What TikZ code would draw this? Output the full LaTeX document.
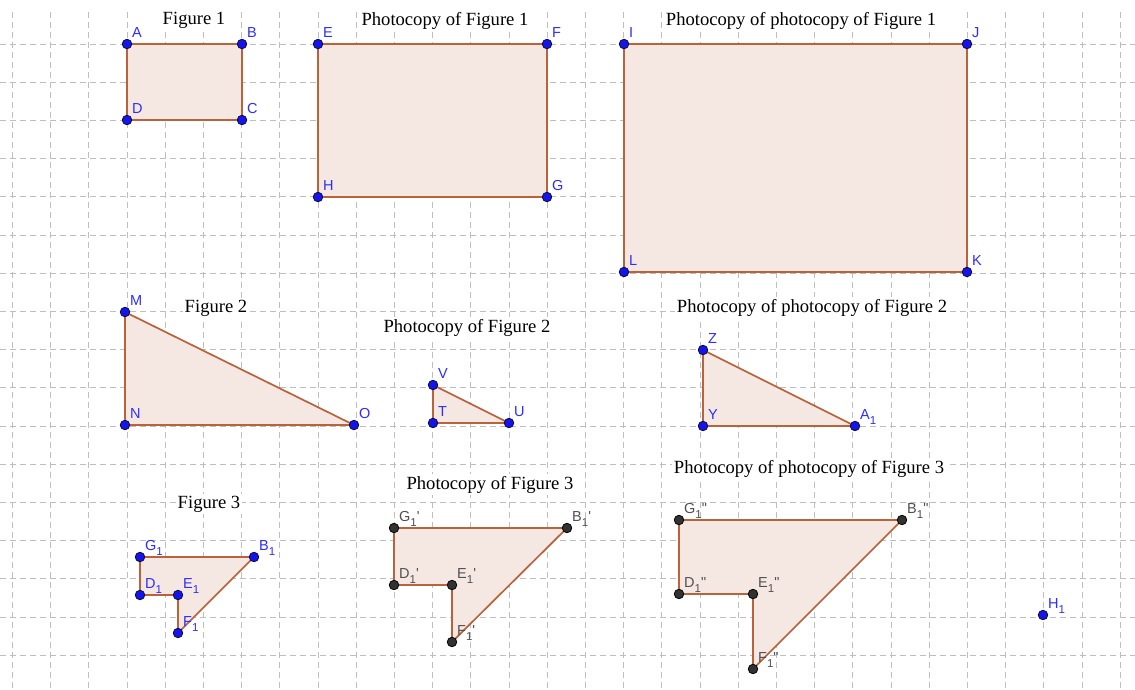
\documentclass[tikz,border=0pt]{standalone}
\usepackage{fontspec}
\setmainfont{Liberation Serif}
\newfontfamily\lblfont{Liberation Sans}
\definecolor{gridgray}{RGB}{190,190,190}
\definecolor{polyline}{RGB}{186,98,58}
\definecolor{polyfill}{RGB}{245,232,226}
\definecolor{ptblue}{RGB}{20,20,235}
\definecolor{ptedge}{RGB}{10,10,60}
\definecolor{ptdark}{RGB}{50,50,50}
\definecolor{lblblue}{RGB}{45,45,255}
\definecolor{lblgray}{RGB}{80,80,80}
\newcommand\ssub[1]{\raisebox{-5pt}{\fontsize{11.5}{11.5}\selectfont #1}}
\newcommand\pq{\textquotesingle}
\newcommand\ppq{\textquotedbl}
\tikzset{
  gridline/.style={draw=gridgray, line width=0.9pt, dash pattern=on 6pt off 4pt},
  poly/.style={draw=polyline, line width=1.7pt, fill=polyfill, line join=round},
  ptb/.style={circle, fill=ptblue, draw=ptedge, line width=0.8pt, inner sep=0pt, minimum size=9.5pt},
  ptg/.style={circle, fill=ptdark, draw=black, line width=0.8pt, inner sep=0pt, minimum size=9.5pt},
  lbl/.style={font={\lblfont\fontsize{14.5}{14.5}\selectfont}, text=lblblue, inner sep=0pt, anchor=base west, xshift=5pt, yshift=7pt},
  glbl/.style={lbl, text=lblgray},
  ttl/.style={font={\fontsize{18.6}{20}\selectfont}, fill=white, inner sep=2pt, anchor=base}
}
\begin{document}
\begin{tikzpicture}[x=1pt,y=-1pt]
\useasboundingbox (0,0) rectangle (1135,689);
\fill[white] (0,0) rectangle (1135,689);
% grid
\foreach \k in {1,...,17} \draw[gridline] (0,{5.8+38.2*\k}) -- (1135,{5.8+38.2*\k});
\foreach \k in {0,...,29} \draw[gridline] ({12.4+38.2*\k},12) -- ({12.4+38.2*\k},689);
% coordinates
\coordinate (A) at (127,44); \coordinate (B) at (242,44); \coordinate (C) at (242,120); \coordinate (D) at (127,120);
\coordinate (E) at (318,44); \coordinate (F) at (547,44); \coordinate (G) at (547,197); \coordinate (H) at (318,197);
\coordinate (I) at (624,44); \coordinate (J) at (967,44); \coordinate (K) at (967,272); \coordinate (L) at (624,272);
\coordinate (M) at (125,312); \coordinate (N) at (125,425); \coordinate (O) at (354,425);
\coordinate (V) at (433,385); \coordinate (T) at (433,423); \coordinate (U) at (509,423);
\coordinate (Z) at (703,350); \coordinate (Y) at (703,426); \coordinate (A1) at (855,426);
\coordinate (G1) at (140,557); \coordinate (B1) at (254,557); \coordinate (D1) at (140,595); \coordinate (E1) at (178,595); \coordinate (F1) at (178,633);
\coordinate (G1p) at (394,528); \coordinate (B1p) at (567,528); \coordinate (D1p) at (394,585); \coordinate (E1p) at (452,585); \coordinate (F1p) at (452,642);
\coordinate (G1pp) at (679,520); \coordinate (B1pp) at (902,520); \coordinate (D1pp) at (679,594); \coordinate (E1pp) at (753,594); \coordinate (F1pp) at (753,669);
\coordinate (H1) at (1043,615);
% polygons
\draw[poly] (A) -- (B) -- (C) -- (D) -- cycle;
\draw[poly] (E) -- (F) -- (G) -- (H) -- cycle;
\draw[poly] (I) -- (J) -- (K) -- (L) -- cycle;
\draw[poly] (M) -- (N) -- (O) -- cycle;
\draw[poly] (V) -- (T) -- (U) -- cycle;
\draw[poly] (Z) -- (Y) -- (A1) -- cycle;
\draw[poly] (G1) -- (B1) -- (F1) -- (E1) -- (D1) -- cycle;
\draw[poly] (G1p) -- (B1p) -- (F1p) -- (E1p) -- (D1p) -- cycle;
\draw[poly] (G1pp) -- (B1pp) -- (F1pp) -- (E1pp) -- (D1pp) -- cycle;
% titles
\node[ttl] (t1) at (194,24) {Figure 1};
\node[ttl] (t2) at (445,25) {Photocopy of Figure 1};
\node[ttl] (t3) at (801,25) {Photocopy of photocopy of Figure 1};
\node[ttl] (t4) at (216,312) {Figure 2};
\node[ttl] (t5) at (467,332) {Photocopy of Figure 2};
\node[ttl] (t6) at (812,312) {Photocopy of photocopy of Figure 2};
\node[ttl] (t7) at (209,508) {Figure 3};
\node[ttl] (t8) at (490,489) {Photocopy of Figure 3};
\node[ttl] (t9) at (809,473) {Photocopy of photocopy of Figure 3};
% points and labels (blue)
\foreach \p/\t in {A/A,B/B,C/C,D/D,E/E,F/F,G/G,H/H,I/I,J/J,K/K,L/L,M/M,N/N,O/O,V/V,T/T,U/U,Z/Z,Y/Y}{
  \node[ptb] (p\p) at (\p) {};
  \node[lbl] (l\p) at (\p) {\t};
}
\node[ptb] (pA1) at (A1) {}; \node[lbl] (lA1) at (A1) {A\ssub{1}};
\node[ptb] (pH1) at (H1) {}; \node[lbl] (lH1) at (H1) {H\ssub{1}};
\foreach \p in {G,B,D,E,F}{
  \node[ptb] (p\p1) at (\p1) {};
  \node[lbl] (l\p1) at (\p1) {\p\ssub{1}};
}
% points and labels (gray)
\foreach \p in {G,B,D,E,F}{
  \node[ptg] (p\p1p) at (\p1p) {};
  \node[glbl] (l\p1p) at (\p1p) {\p\ssub{1}\pq};
  \node[ptg] (p\p1pp) at (\p1pp) {};
  \node[glbl] (l\p1pp) at (\p1pp) {\p\ssub{1}\ppq};
}
\end{tikzpicture}
\end{document}
